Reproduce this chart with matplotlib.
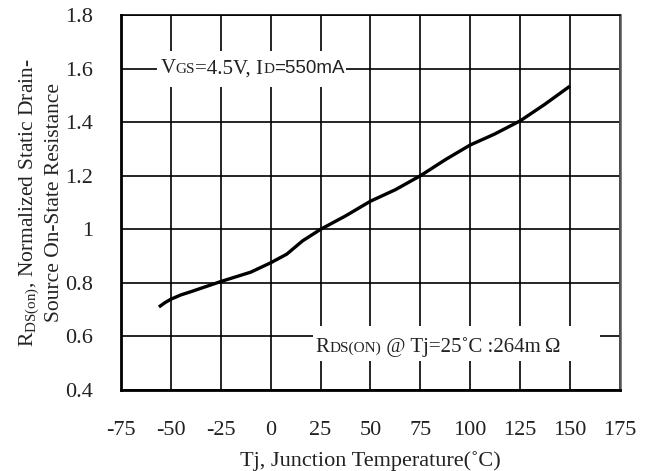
import matplotlib
matplotlib.use("Agg")
import matplotlib.pyplot as plt
from matplotlib.patches import Rectangle
from matplotlib.offsetbox import TextArea, HPacker, AnnotationBbox

# Data
temps = [-56, -53, -50, -45, -40, -25, -10, 0, 8, 16, 25, 37.5, 50, 62.5, 75, 87.5, 100, 112, 125, 137, 150]
rds_norm = [0.71, 0.726, 0.739, 0.755, 0.767, 0.805, 0.84, 0.875, 0.907, 0.957, 1.0, 1.05, 1.105, 1.148,
            1.2, 1.26, 1.315, 1.355, 1.405, 1.465, 1.535]

x_ticks = [-75, -50, -25, 0, 25, 50, 75, 100, 125, 150, 175]
y_ticks = [0.4, 0.6, 0.8, 1.0, 1.2, 1.4, 1.6, 1.8]
y_tick_labels = ["0.4", "0.6", "0.8", "1", "1.2", "1.4", "1.6", "1.8"]

serif = "Liberation Serif"
sans = "Liberation Sans"
plt.rcParams["font.family"] = serif
plt.rcParams["mathtext.fontset"] = "custom"
plt.rcParams["mathtext.rm"] = serif
plt.rcParams["axes.unicode_minus"] = False

fig = plt.figure(figsize=(6.45, 4.71), dpi=100)
ax = fig.add_axes([0.1876, 0.172, 0.7736, 0.796])

ax.plot(temps, rds_norm, color="black", linewidth=2.4, zorder=2, solid_capstyle="butt")

ax.set_xlim(-75, 175)
ax.set_ylim(0.4, 1.8)
ax.set_xticks(x_ticks)
ax.set_yticks(y_ticks)
ax.set_yticklabels(y_tick_labels)
ax.tick_params(length=0, labelsize=16, colors="#222222")
ax.tick_params(axis="x", pad=22)
ax.tick_params(axis="y", pad=20)
ax.set_axisbelow(True)
ax.grid(True, color="black", linewidth=1.2)

ax.spines["left"].set_linewidth(2)
ax.spines["bottom"].set_linewidth(2)
ax.spines["top"].set_linewidth(1.2)
ax.spines["right"].set_linewidth(1.8)
ax.spines["right"].set_color("#555555")

ax.set_xlabel("Tj, Junction Temperature(\u02daC)", fontsize=16, labelpad=8, color="#222222")
ax.set_ylabel("R$_{\\rm DS(on)}$, Normalized Static Drain-\nSource On-State Resistance",
              fontsize=15.5, linespacing=1.2, labelpad=1, color="#222222")

# white masks behind the annotations
ax.add_patch(Rectangle((-57, 1.533), 94.5, 0.134, facecolor="white", edgecolor="none", zorder=1.5))
ax.add_patch(Rectangle((21, 0.508), 144, 0.13, facecolor="white", edgecolor="none", zorder=1.5))

big = dict(fontsize=15, family=serif, color="#222222")
small = dict(fontsize=11, family=serif, color="#222222")

cond = HPacker(children=[
    TextArea("V", textprops=big),
    TextArea("GS", textprops=small),
    TextArea("=4.5V, I", textprops=big),
    TextArea("D", textprops=small),
    TextArea("=550mA", textprops=dict(fontsize=13.5, family=sans, color="#222222")),
], align="baseline", pad=0, sep=0)
ax.add_artist(AnnotationBbox(cond, (-9, 1.6), frameon=False, zorder=3))

ref = HPacker(children=[
    TextArea("R", textprops=big),
    TextArea("DS(ON)", textprops=small),
    TextArea(" @ Tj=25\u02daC :264m\u2009\u03a9", textprops=big),
], align="baseline", pad=0, sep=0)
ax.add_artist(AnnotationBbox(ref, (84, 0.56), frameon=False, zorder=3))

fig.savefig("out.png", dpi=100)
